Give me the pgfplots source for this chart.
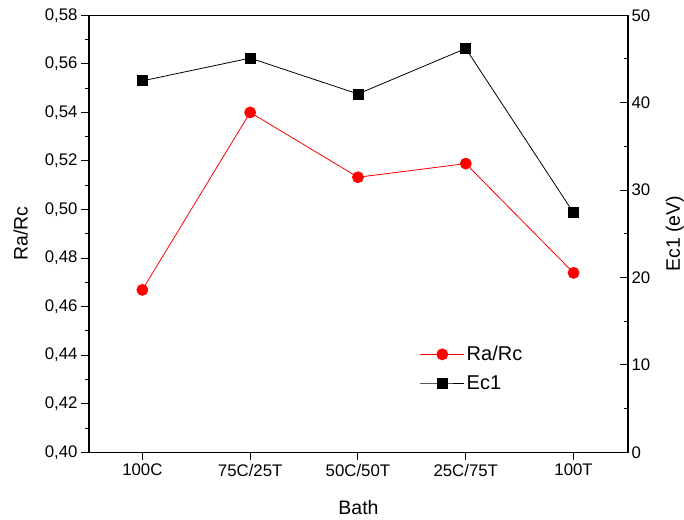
\documentclass[border=0pt]{standalone}
\usepackage{fontspec}
\setmainfont{Liberation Sans}
\usepackage{pgfplots}
\pgfplotsset{compat=1.18}

\pgfplotsset{
  common/.style={
    scale only axis, width=539pt, height=437pt,
    xmin=-0.495, xmax=4.505,
    ticklabel style={font=\fontsize{16.8}{19}\selectfont},
    label style={font=\fontsize{19.5}{22}\selectfont},
    major tick length=8pt, minor tick length=4pt,
    every tick/.style={black, line width=1pt},
    axis line style={line width=1.2pt},
    /pgf/number format/assume math mode=true,
  },
}

\begin{document}
\begin{tikzpicture}
\begin{axis}[common, name=ax,
    xtick={0,1,2,3,4},
    xticklabels={100C,75C/25T,50C/50T,25C/75T,100T},
    xtick pos=lower, ytick pos=left,
    tick align=outside,
    ymin=0.40, ymax=0.58,
    ytick={0.40,0.42,...,0.581},
    minor y tick num=1,
    yticklabel style={/pgf/number format/.cd, fixed, fixed zerofill, precision=2, use comma},
    xlabel={Bath}, ylabel={Ra/Rc},
    xlabel style={at={(axis description cs:0.5,-0.126)}, anchor=center},
    ylabel style={at={(axis description cs:-0.127,0.5)}, anchor=center},
]
\addplot[red, line width=0.8pt, mark=*, mark size=5.5pt, mark options={solid, fill=red, draw=red}]
  coordinates {(0,0.4669) (1,0.5400) (2,0.5133) (3,0.5189) (4,0.4739)};
\end{axis}
\begin{axis}[common,
    axis x line=none, axis y line*=right,
    ytick pos=right, tick align=inside,
    ymin=0, ymax=50,
    ytick={0,10,...,50},
    minor y tick num=1,
    ylabel={Ec1 (eV)},
    ylabel style={at={(axis description cs:1.087,0.5)}, anchor=center, rotate=0},
    legend style={draw=none, fill=none, at={(axis description cs:0.608,0.252)}, anchor=north west,
      font=\fontsize{20}{24}\selectfont, row sep=9pt},
    legend cell align=left,
    legend image code/.code={\draw[mark repeat=2, mark phase=2] plot coordinates {(0pt,0pt) (22pt,0pt) (44pt,0pt)};},
]
\addlegendimage{red, line width=0.8pt, mark=*, mark size=5.5pt, mark options={solid, fill=red, draw=red}}
\addlegendentry{Ra/Rc}
\addplot[black, line width=0.8pt, mark=square*, mark size=5pt, mark options={solid, fill=black}]
  coordinates {(0,42.5) (1,45.1) (2,41.0) (3,46.2) (4,27.4)};
\addlegendentry{Ec1}
\end{axis}
\pgfresetboundingbox
\path[use as bounding box] ([xshift=-89pt,yshift=-67.7pt]ax.south west) rectangle ([xshift=56pt,yshift=15.3pt]ax.north east);
\end{tikzpicture}
\end{document}
